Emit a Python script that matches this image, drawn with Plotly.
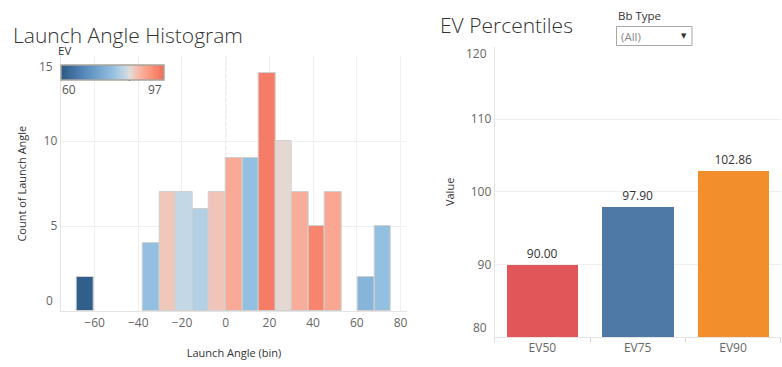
import plotly.graph_objects as go

# ---------------- data ----------------
BIN_SIZE = 7.57
bin_index = [-9, -5, -4, -3, -2, -1, 0, 1, 2, 3, 4, 5, 6, 8, 9]
bin_count = [2, 4, 7, 7, 6, 7, 9, 9, 14, 10, 7, 5, 7, 2, 5]
bin_ev = [61, 78.5, 86.6, 83, 81.5, 86.8, 89.6, 78.5, 95, 85.2, 89.2, 94, 90, 76.6, 78.5]
x_ticks = [-60, -40, -20, 0, 20, 40, 60, 80]
y_ticks = [0, 5, 10, 15]

pct_labels = ["EV50", "EV75", "EV90"]
pct_values = [90.00, 97.90, 102.86]
pct_colors = ["#e15759", "#4e79a7", "#f28e2b"]
val_ticks = [80, 90, 100, 110, 120]

EV_MIN, EV_MAX = 60, 97

W, H = 782, 367
FONT = "Open Sans"

def px(x):
    return x / W

def py(y):
    return 1 - y / H

colorscale = [
    [0.0, "#2c5985"],
    [0.25, "#5b8dc0"],
    [0.5, "#93bfe0"],
    [0.62, "#c3d7e5"],
    [0.67, "#e2dcd8"],
    [0.75, "#f7b9a9"],
    [0.87, "#fa957b"],
    [1.0, "#f26b57"],
]

bin_centers = [(k + 0.5) * BIN_SIZE for k in bin_index]

fig = go.Figure()

fig.add_trace(go.Bar(
    x=bin_centers, y=bin_count, width=BIN_SIZE,
    marker=dict(
        color=bin_ev, colorscale=colorscale, cmin=EV_MIN, cmax=EV_MAX,
        line=dict(color="#d0d0d0", width=1),
        showscale=True,
        colorbar=dict(
            orientation="h", lenmode="pixels", len=103, thickness=15,
            x=px(60.5), xanchor="left", y=py(64.5), yanchor="top",
            xpad=0, ypad=0, outlinecolor="#aaa49b", outlinewidth=1.5,
            showticklabels=False, ticks="",
        ),
    ),
    xaxis="x", yaxis="y", showlegend=False, hoverinfo="x+y",
))

fig.add_trace(go.Bar(
    x=pct_labels, y=pct_values, width=0.75,
    marker=dict(color=pct_colors, line=dict(width=0)),
    texttemplate="%{y:.2f}", textposition="outside", cliponaxis=False,
    textfont=dict(family=FONT, size=12, color="#333"),
    xaxis="x2", yaxis="y2", showlegend=False,
))

grid = "#efefef"
axis_line = "#e4e4e4"
tick_color = "#666"
tick_font = dict(family=FONT, size=12, color=tick_color)
title_font = dict(family=FONT, size=11, color="#333")

# Tableau nudges the end labels of a value axis inward
def inner_labels(vals):
    return [str(v) if 0 < i < len(vals) - 1 else "" for i, v in enumerate(vals)]

edge_annots = []
for v, shift in [(y_ticks[0], 11), (y_ticks[-1], -10)]:
    edge_annots.append(dict(text=str(v), x=0, xref="x domain", y=v, yref="y",
                            xanchor="right", yanchor="middle", xshift=-6, yshift=shift,
                            showarrow=False, font=tick_font))
for v, shift in [(val_ticks[0], 10), (val_ticks[-1], -7)]:
    edge_annots.append(dict(text=str(v), x=0, xref="x2 domain", y=v, yref="y2",
                            xanchor="right", yanchor="middle", xshift=-6, yshift=shift,
                            showarrow=False, font=tick_font))

fig.update_layout(
    width=W, height=H,
    margin=dict(l=0, r=0, t=0, b=0, autoexpand=False),
    paper_bgcolor="white", plot_bgcolor="white",
    bargap=0,
    xaxis=dict(
        domain=[px(60.7), px(407.3)], range=[-75.5, 83.1],
        tickvals=x_ticks, tickfont=tick_font,
        showgrid=True, gridcolor=grid, zeroline=False,
        showline=True, linecolor=axis_line, ticks="",
        title=dict(text="Launch Angle (bin)", font=title_font, standoff=19),
        anchor="y",
    ),
    yaxis=dict(
        domain=[py(311.3), py(56)], range=[0, 15],
        tickvals=y_ticks, ticktext=inner_labels(y_ticks), tickfont=tick_font,
        showgrid=True, gridcolor=grid, zeroline=False,
        showline=True, linecolor=axis_line, ticks="",
        title=dict(text="Count of Launch Angle", font=title_font, standoff=14),
        anchor="x",
    ),
    xaxis2=dict(
        domain=[px(494.7), px(780.7)],
        tickfont=tick_font, showgrid=False, zeroline=False,
        showline=True, linecolor=axis_line,
        ticks="outside", tickson="boundaries", ticklen=5, tickcolor="#dcdcdc",
        anchor="y2",
    ),
    yaxis2=dict(
        domain=[py(337), py(46.7)], range=[80, 120],
        tickvals=val_ticks, ticktext=inner_labels(val_ticks), tickfont=tick_font,
        showgrid=True, gridcolor=grid, zeroline=False,
        showline=True, linecolor=axis_line, ticks="",
        title=dict(text="Value", font=title_font, standoff=13),
        anchor="x2",
    ),
    shapes=[
        dict(type="line", xref="x", yref="paper", x0=0, x1=0,
             y0=py(311.3), y1=py(56), line=dict(color="#bbbbbb", width=1, dash="dot"),
             layer="below"),
        # colorbar marker
        dict(type="line", xref="paper", yref="paper", x0=px(129.5), x1=px(129.5),
             y0=py(76.5), y1=py(81), line=dict(color="#111", width=1.3)),
        # dropdown box
        dict(type="rect", xref="paper", yref="paper", x0=px(616.5), x1=px(692),
             y0=py(45.5), y1=py(26.5), line=dict(color="#a8a8a8", width=1),
             fillcolor="white"),
    ],
    annotations=edge_annots + [
        dict(text="Launch Angle Histogram", x=px(11), y=py(34.5), xref="paper", yref="paper",
             xanchor="left", yanchor="middle", showarrow=False,
             font=dict(family=FONT, size=21, color="#333", weight=300)),
        dict(text="EV Percentiles", x=px(438), y=py(25), xref="paper", yref="paper",
             xanchor="left", yanchor="middle", showarrow=False,
             font=dict(family=FONT, size=21, color="#333", weight=300)),
        dict(text="EV", x=px(56), y=py(50), xref="paper", yref="paper",
             xanchor="left", yanchor="middle", showarrow=False,
             font=dict(family=FONT, size=11.5, color="#333")),
        dict(text="60", x=px(60), y=py(89), xref="paper", yref="paper",
             xanchor="left", yanchor="middle", showarrow=False,
             font=dict(family=FONT, size=12, color="#555")),
        dict(text="97", x=px(164), y=py(89), xref="paper", yref="paper",
             xanchor="right", yanchor="middle", showarrow=False,
             font=dict(family=FONT, size=12, color="#555")),
        dict(text="Bb Type", x=px(616), y=py(16), xref="paper", yref="paper",
             xanchor="left", yanchor="middle", showarrow=False,
             font=dict(family=FONT, size=11.5, color="#333")),
        dict(text="(All)", x=px(619), y=py(36), xref="paper", yref="paper",
             xanchor="left", yanchor="middle", showarrow=False,
             font=dict(family=FONT, size=11.5, color="#888")),
        dict(text="▼", x=px(684), y=py(35.5), xref="paper", yref="paper",
             xanchor="center", yanchor="middle", showarrow=False,
             font=dict(family="DejaVu Sans", size=7, color="#333")),
    ],
)

fig.write_html("out.html", config={"displayModeBar": False},
               post_script="document.body.style.margin='0';")
